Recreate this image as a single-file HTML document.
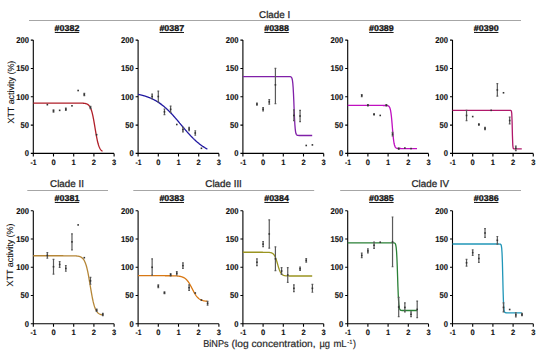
<!DOCTYPE html>
<html><head><meta charset="utf-8"><style>
html,body{margin:0;padding:0;background:#fff;}
body{width:550px;height:361px;overflow:hidden;font-family:"Liberation Sans",sans-serif;}
svg{display:block;text-rendering:geometricPrecision;}
</style></head><body>
<svg width="550" height="361" viewBox="0 0 550 361">
<g stroke="#a6a6a6" stroke-width="1" fill="none">
<line x1="29" y1="20.5" x2="521" y2="20.5"/>
<line x1="27.3" y1="190.5" x2="108" y2="190.5"/>
<line x1="133.3" y1="190.5" x2="314.2" y2="190.5"/>
<line x1="340.2" y1="190.5" x2="521" y2="190.5"/>
</g>
<g font-family="Liberation Sans, sans-serif" font-size="9.8" fill="#2a2a2a" stroke="#2a2a2a" stroke-width="0.3" text-anchor="middle">
<text x="274.6" y="17.5">Clade I</text>
<text x="67" y="186.9">Clade II</text>
<text x="223.6" y="186.9">Clade III</text>
<text x="430.3" y="186.9">Clade IV</text>
</g>
<text x="67" y="30.8" font-family="Liberation Sans, sans-serif" font-weight="bold" font-size="8.4" fill="#111" stroke="#111" stroke-width="0.3" text-anchor="middle" textLength="24.8" lengthAdjust="spacingAndGlyphs">#0382</text>
<line x1="54.8" y1="32.5" x2="79.2" y2="32.5" stroke="#1a1a1a" stroke-width="1"/>
<path d="M33.3 40.1V156.4M30.8 153.4H114.1M30.8 153.4H33.3M30.8 125.08H33.3M30.8 96.75H33.3M30.8 68.43H33.3M30.8 40.1H33.3M33.3 153.4V156.4M53.5 153.4V156.4M73.7 153.4V156.4M93.9 153.4V156.4M114.1 153.4V156.4" stroke="#000" stroke-width="1.1" fill="none"/>
<g font-family="Liberation Sans, sans-serif" font-weight="bold" font-size="8.4" fill="#111" stroke="#111" stroke-width="0.15">
<text x="28.9" y="156.15" text-anchor="end" textLength="4.25" lengthAdjust="spacingAndGlyphs">0</text>
<text x="28.9" y="127.83" text-anchor="end" textLength="8.5" lengthAdjust="spacingAndGlyphs">50</text>
<text x="28.9" y="99.5" text-anchor="end" textLength="12.75" lengthAdjust="spacingAndGlyphs">100</text>
<text x="28.9" y="71.18" text-anchor="end" textLength="12.75" lengthAdjust="spacingAndGlyphs">150</text>
<text x="28.9" y="42.85" text-anchor="end" textLength="12.75" lengthAdjust="spacingAndGlyphs">200</text>
<text x="33.6" y="164.5" font-size="7.8" text-anchor="middle" textLength="6" lengthAdjust="spacingAndGlyphs">-1</text>
<text x="53.5" y="164.5" font-size="7.8" text-anchor="middle" textLength="4.2" lengthAdjust="spacingAndGlyphs">0</text>
<text x="73.7" y="164.5" font-size="7.8" text-anchor="middle" textLength="4.2" lengthAdjust="spacingAndGlyphs">1</text>
<text x="93.9" y="164.5" font-size="7.8" text-anchor="middle" textLength="4.2" lengthAdjust="spacingAndGlyphs">2</text>
<text x="114.1" y="164.5" font-size="7.8" text-anchor="middle" textLength="4.2" lengthAdjust="spacingAndGlyphs">3</text>
</g>
<polyline points="33.3,103.09 33.65,103.09 33.99,103.09 34.34,103.09 34.69,103.09 35.03,103.09 35.38,103.09 35.73,103.09 36.07,103.09 36.42,103.09 36.76,103.09 37.11,103.09 37.46,103.09 37.8,103.09 38.15,103.09 38.5,103.09 38.84,103.09 39.19,103.09 39.54,103.09 39.88,103.09 40.23,103.09 40.58,103.09 40.92,103.09 41.27,103.09 41.61,103.09 41.96,103.09 42.31,103.09 42.65,103.09 43,103.09 43.35,103.09 43.69,103.09 44.04,103.09 44.39,103.09 44.73,103.09 45.08,103.09 45.43,103.09 45.77,103.09 46.12,103.09 46.46,103.09 46.81,103.09 47.16,103.09 47.5,103.09 47.85,103.09 48.2,103.09 48.54,103.09 48.89,103.09 49.24,103.09 49.58,103.09 49.93,103.09 50.28,103.09 50.62,103.09 50.97,103.09 51.31,103.09 51.66,103.09 52.01,103.09 52.35,103.09 52.7,103.09 53.05,103.09 53.39,103.09 53.74,103.09 54.09,103.09 54.43,103.09 54.78,103.09 55.13,103.09 55.47,103.09 55.82,103.09 56.16,103.09 56.51,103.09 56.86,103.09 57.2,103.09 57.55,103.09 57.9,103.09 58.24,103.09 58.59,103.09 58.94,103.09 59.28,103.09 59.63,103.09 59.98,103.09 60.32,103.09 60.67,103.09 61.01,103.09 61.36,103.09 61.71,103.09 62.05,103.09 62.4,103.09 62.75,103.09 63.09,103.09 63.44,103.09 63.79,103.09 64.13,103.09 64.48,103.09 64.83,103.09 65.17,103.09 65.52,103.09 65.86,103.09 66.21,103.09 66.56,103.09 66.9,103.09 67.25,103.09 67.6,103.09 67.94,103.09 68.29,103.09 68.64,103.09 68.98,103.09 69.33,103.09 69.68,103.09 70.02,103.1 70.37,103.1 70.71,103.1 71.06,103.1 71.41,103.1 71.75,103.1 72.1,103.1 72.45,103.1 72.79,103.1 73.14,103.1 73.49,103.1 73.83,103.1 74.18,103.1 74.53,103.1 74.87,103.1 75.22,103.1 75.56,103.1 75.91,103.1 76.26,103.1 76.6,103.1 76.95,103.1 77.3,103.1 77.64,103.1 77.99,103.11 78.34,103.11 78.68,103.11 79.03,103.11 79.38,103.12 79.72,103.12 80.07,103.13 80.41,103.13 80.76,103.14 81.11,103.15 81.45,103.16 81.8,103.17 82.15,103.18 82.49,103.2 82.84,103.22 83.19,103.24 83.53,103.27 83.88,103.3 84.23,103.33 84.57,103.38 84.92,103.43 85.26,103.49 85.61,103.57 85.96,103.65 86.3,103.76 86.65,103.88 87,104.02 87.34,104.19 87.69,104.39 88.04,104.62 88.38,104.9 88.73,105.22 89.08,105.6 89.42,106.04 89.77,106.55 90.11,107.14 90.46,107.82 90.81,108.6 91.15,109.49 91.5,110.51 91.85,111.65 92.19,112.93 92.54,114.34 92.89,115.9 93.23,117.58 93.58,119.39 93.93,121.31 94.27,123.31 94.62,125.38 94.96,127.48 95.31,129.59 95.66,131.67 96,133.69 96.35,135.64 96.7,137.48 97.04,139.2 97.39,140.79 97.74,142.24 98.08,143.55 98.43,144.73 98.78,145.78 99.12,146.7 99.47,147.51 99.81,148.22 100.16,148.84 100.51,149.37 100.85,149.82 101.2,150.22 101.55,150.55 101.89,150.84 102.24,151.08 102.59,151.29" stroke="#b01e28" stroke-width="1.3" fill="none" stroke-linejoin="round"/>
<path d="M53.5 109.78V112.05M52.6 109.78H54.4M52.6 112.05H54.4M65.82 108.08V110.35M64.92 108.08H66.72M64.92 110.35H66.72M84.3 93.35V95.62M83.4 93.35H85.2M83.4 95.62H85.2M90.47 106.38V108.65M89.57 106.38H91.37M89.57 108.65H91.37" stroke="#5a5a5a" stroke-width="1.2" fill="none"/>
<rect x="46.54" y="103.88" width="1.6" height="1.6" fill="#333"/>
<rect x="52.7" y="110.11" width="1.6" height="1.6" fill="#333"/>
<rect x="58.86" y="109.55" width="1.6" height="1.6" fill="#333"/>
<rect x="65.02" y="108.41" width="1.6" height="1.6" fill="#333"/>
<rect x="71.18" y="105.01" width="1.6" height="1.6" fill="#333"/>
<rect x="77.34" y="89.72" width="1.6" height="1.6" fill="#333"/>
<rect x="83.5" y="93.68" width="1.6" height="1.6" fill="#333"/>
<rect x="89.67" y="106.71" width="1.6" height="1.6" fill="#333"/>
<rect x="95.83" y="133.91" width="1.6" height="1.6" fill="#333"/>
<text x="171.8" y="30.8" font-family="Liberation Sans, sans-serif" font-weight="bold" font-size="8.4" fill="#111" stroke="#111" stroke-width="0.3" text-anchor="middle" textLength="24.8" lengthAdjust="spacingAndGlyphs">#0387</text>
<line x1="159.6" y1="32.5" x2="184" y2="32.5" stroke="#1a1a1a" stroke-width="1"/>
<path d="M138.1 40.1V156.4M135.6 153.4H218.9M135.6 153.4H138.1M135.6 125.08H138.1M135.6 96.75H138.1M135.6 68.43H138.1M135.6 40.1H138.1M138.1 153.4V156.4M158.3 153.4V156.4M178.5 153.4V156.4M198.7 153.4V156.4M218.9 153.4V156.4" stroke="#000" stroke-width="1.1" fill="none"/>
<g font-family="Liberation Sans, sans-serif" font-weight="bold" font-size="8.4" fill="#111" stroke="#111" stroke-width="0.15">
<text x="133.7" y="156.15" text-anchor="end" textLength="4.25" lengthAdjust="spacingAndGlyphs">0</text>
<text x="133.7" y="127.83" text-anchor="end" textLength="8.5" lengthAdjust="spacingAndGlyphs">50</text>
<text x="133.7" y="99.5" text-anchor="end" textLength="12.75" lengthAdjust="spacingAndGlyphs">100</text>
<text x="133.7" y="71.18" text-anchor="end" textLength="12.75" lengthAdjust="spacingAndGlyphs">150</text>
<text x="133.7" y="42.85" text-anchor="end" textLength="12.75" lengthAdjust="spacingAndGlyphs">200</text>
<text x="138.4" y="164.5" font-size="7.8" text-anchor="middle" textLength="6" lengthAdjust="spacingAndGlyphs">-1</text>
<text x="158.3" y="164.5" font-size="7.8" text-anchor="middle" textLength="4.2" lengthAdjust="spacingAndGlyphs">0</text>
<text x="178.5" y="164.5" font-size="7.8" text-anchor="middle" textLength="4.2" lengthAdjust="spacingAndGlyphs">1</text>
<text x="198.7" y="164.5" font-size="7.8" text-anchor="middle" textLength="4.2" lengthAdjust="spacingAndGlyphs">2</text>
<text x="218.9" y="164.5" font-size="7.8" text-anchor="middle" textLength="4.2" lengthAdjust="spacingAndGlyphs">3</text>
</g>
<polyline points="138.1,94.37 138.45,94.44 138.79,94.51 139.14,94.58 139.49,94.66 139.83,94.73 140.18,94.81 140.53,94.89 140.87,94.97 141.22,95.05 141.56,95.14 141.91,95.22 142.26,95.31 142.6,95.4 142.95,95.5 143.3,95.59 143.64,95.69 143.99,95.79 144.34,95.89 144.68,95.99 145.03,96.1 145.38,96.2 145.72,96.31 146.07,96.43 146.41,96.54 146.76,96.66 147.11,96.78 147.45,96.9 147.8,97.03 148.15,97.15 148.49,97.28 148.84,97.42 149.19,97.55 149.53,97.69 149.88,97.83 150.23,97.98 150.57,98.12 150.92,98.27 151.26,98.43 151.61,98.58 151.96,98.74 152.3,98.91 152.65,99.07 153,99.24 153.34,99.42 153.69,99.59 154.04,99.77 154.38,99.95 154.73,100.14 155.08,100.33 155.42,100.52 155.77,100.72 156.11,100.92 156.46,101.12 156.81,101.33 157.15,101.54 157.5,101.76 157.85,101.98 158.19,102.2 158.54,102.42 158.89,102.66 159.23,102.89 159.58,103.13 159.93,103.37 160.27,103.62 160.62,103.87 160.96,104.12 161.31,104.38 161.66,104.64 162,104.9 162.35,105.17 162.7,105.45 163.04,105.73 163.39,106.01 163.74,106.29 164.08,106.58 164.43,106.88 164.78,107.17 165.12,107.48 165.47,107.78 165.81,108.09 166.16,108.4 166.51,108.72 166.85,109.04 167.2,109.37 167.55,109.7 167.89,110.03 168.24,110.37 168.59,110.71 168.93,111.05 169.28,111.4 169.63,111.75 169.97,112.1 170.32,112.46 170.66,112.82 171.01,113.18 171.36,113.55 171.7,113.92 172.05,114.29 172.4,114.67 172.74,115.05 173.09,115.43 173.44,115.81 173.78,116.2 174.13,116.59 174.48,116.98 174.82,117.38 175.17,117.77 175.51,118.17 175.86,118.57 176.21,118.97 176.55,119.38 176.9,119.78 177.25,120.19 177.59,120.6 177.94,121.01 178.29,121.42 178.63,121.83 178.98,122.24 179.33,122.65 179.67,123.07 180.02,123.48 180.36,123.9 180.71,124.31 181.06,124.72 181.4,125.14 181.75,125.55 182.1,125.97 182.44,126.38 182.79,126.8 183.14,127.21 183.48,127.62 183.83,128.03 184.18,128.44 184.52,128.85 184.87,129.25 185.21,129.66 185.56,130.06 185.91,130.47 186.25,130.87 186.6,131.27 186.95,131.66 187.29,132.06 187.64,132.45 187.99,132.84 188.33,133.23 188.68,133.61 189.03,133.99 189.37,134.37 189.72,134.75 190.06,135.12 190.41,135.5 190.76,135.86 191.1,136.23 191.45,136.59 191.8,136.95 192.14,137.3 192.49,137.65 192.84,138 193.18,138.35 193.53,138.69 193.88,139.02 194.22,139.36 194.57,139.69 194.91,140.01 195.26,140.33 195.61,140.65 195.95,140.97 196.3,141.28 196.65,141.58 196.99,141.89 197.34,142.19 197.69,142.48 198.03,142.77 198.38,143.06 198.73,143.34 199.07,143.62 199.42,143.89 199.76,144.16 200.11,144.43 200.46,144.69 200.8,144.95 201.15,145.21 201.5,145.46 201.84,145.7 202.19,145.95 202.54,146.19 202.88,146.42 203.23,146.65 203.58,146.88 203.92,147.1 204.27,147.32 204.61,147.54 204.96,147.75 205.31,147.96 205.65,148.16 206,148.37 206.35,148.56 206.69,148.76 207.04,148.95 207.39,149.13" stroke="#2018a0" stroke-width="1.3" fill="none" stroke-linejoin="round"/>
<path d="M152.14 94.2V98.73M151.24 94.2H153.04M151.24 98.73H153.04M158.3 91.2V101.85M157.4 91.2H159.2M157.4 101.85H159.2M164.46 108.99V114.65M163.56 108.99H165.36M163.56 114.65H165.36M170.62 106.21V112.44M169.72 106.21H171.52M169.72 112.44H171.52M182.94 127.34V131.87M182.04 127.34H183.84M182.04 131.87H183.84M189.1 127.34V130.74M188.2 127.34H190M188.2 130.74H190M195.27 130.74V135.27M194.37 130.74H196.17M194.37 135.27H196.17" stroke="#5a5a5a" stroke-width="1.2" fill="none"/>
<rect x="151.34" y="95.67" width="1.6" height="1.6" fill="#333"/>
<rect x="157.5" y="95.72" width="1.6" height="1.6" fill="#333"/>
<rect x="163.66" y="111.02" width="1.6" height="1.6" fill="#333"/>
<rect x="169.82" y="108.53" width="1.6" height="1.6" fill="#333"/>
<rect x="175.98" y="123.71" width="1.6" height="1.6" fill="#333"/>
<rect x="182.14" y="128.81" width="1.6" height="1.6" fill="#333"/>
<rect x="188.3" y="128.24" width="1.6" height="1.6" fill="#333"/>
<rect x="194.47" y="132.21" width="1.6" height="1.6" fill="#333"/>
<rect x="200.63" y="147.5" width="1.6" height="1.6" fill="#333"/>
<text x="276.6" y="30.8" font-family="Liberation Sans, sans-serif" font-weight="bold" font-size="8.4" fill="#111" stroke="#111" stroke-width="0.3" text-anchor="middle" textLength="24.8" lengthAdjust="spacingAndGlyphs">#0388</text>
<line x1="264.4" y1="32.5" x2="288.8" y2="32.5" stroke="#1a1a1a" stroke-width="1"/>
<path d="M242.9 40.1V156.4M240.4 153.4H323.7M240.4 153.4H242.9M240.4 125.08H242.9M240.4 96.75H242.9M240.4 68.43H242.9M240.4 40.1H242.9M242.9 153.4V156.4M263.1 153.4V156.4M283.3 153.4V156.4M303.5 153.4V156.4M323.7 153.4V156.4" stroke="#000" stroke-width="1.1" fill="none"/>
<g font-family="Liberation Sans, sans-serif" font-weight="bold" font-size="8.4" fill="#111" stroke="#111" stroke-width="0.15">
<text x="238.5" y="156.15" text-anchor="end" textLength="4.25" lengthAdjust="spacingAndGlyphs">0</text>
<text x="238.5" y="127.83" text-anchor="end" textLength="8.5" lengthAdjust="spacingAndGlyphs">50</text>
<text x="238.5" y="99.5" text-anchor="end" textLength="12.75" lengthAdjust="spacingAndGlyphs">100</text>
<text x="238.5" y="71.18" text-anchor="end" textLength="12.75" lengthAdjust="spacingAndGlyphs">150</text>
<text x="238.5" y="42.85" text-anchor="end" textLength="12.75" lengthAdjust="spacingAndGlyphs">200</text>
<text x="243.2" y="164.5" font-size="7.8" text-anchor="middle" textLength="6" lengthAdjust="spacingAndGlyphs">-1</text>
<text x="263.1" y="164.5" font-size="7.8" text-anchor="middle" textLength="4.2" lengthAdjust="spacingAndGlyphs">0</text>
<text x="283.3" y="164.5" font-size="7.8" text-anchor="middle" textLength="4.2" lengthAdjust="spacingAndGlyphs">1</text>
<text x="303.5" y="164.5" font-size="7.8" text-anchor="middle" textLength="4.2" lengthAdjust="spacingAndGlyphs">2</text>
<text x="323.7" y="164.5" font-size="7.8" text-anchor="middle" textLength="4.2" lengthAdjust="spacingAndGlyphs">3</text>
</g>
<polyline points="242.9,76.58 243.25,76.58 243.59,76.58 243.94,76.58 244.29,76.58 244.63,76.58 244.98,76.58 245.33,76.58 245.67,76.58 246.02,76.58 246.36,76.58 246.71,76.58 247.06,76.58 247.4,76.58 247.75,76.58 248.1,76.58 248.44,76.58 248.79,76.58 249.14,76.58 249.48,76.58 249.83,76.58 250.18,76.58 250.52,76.58 250.87,76.58 251.21,76.58 251.56,76.58 251.91,76.58 252.25,76.58 252.6,76.58 252.95,76.58 253.29,76.58 253.64,76.58 253.99,76.58 254.33,76.58 254.68,76.58 255.03,76.58 255.37,76.58 255.72,76.58 256.06,76.58 256.41,76.58 256.76,76.58 257.1,76.58 257.45,76.58 257.8,76.58 258.14,76.58 258.49,76.58 258.84,76.58 259.18,76.58 259.53,76.58 259.88,76.58 260.22,76.58 260.57,76.58 260.91,76.58 261.26,76.58 261.61,76.58 261.95,76.58 262.3,76.58 262.65,76.58 262.99,76.58 263.34,76.58 263.69,76.58 264.03,76.58 264.38,76.58 264.73,76.58 265.07,76.58 265.42,76.58 265.76,76.58 266.11,76.58 266.46,76.58 266.8,76.58 267.15,76.58 267.5,76.58 267.84,76.58 268.19,76.58 268.54,76.58 268.88,76.58 269.23,76.58 269.58,76.58 269.92,76.58 270.27,76.58 270.61,76.58 270.96,76.58 271.31,76.58 271.65,76.58 272,76.58 272.35,76.58 272.69,76.58 273.04,76.58 273.39,76.58 273.73,76.58 274.08,76.58 274.43,76.58 274.77,76.58 275.12,76.58 275.46,76.58 275.81,76.58 276.16,76.58 276.5,76.58 276.85,76.58 277.2,76.58 277.54,76.58 277.89,76.58 278.24,76.58 278.58,76.58 278.93,76.58 279.28,76.58 279.62,76.58 279.97,76.58 280.31,76.58 280.66,76.58 281.01,76.58 281.35,76.58 281.7,76.58 282.05,76.58 282.39,76.58 282.74,76.58 283.09,76.58 283.43,76.58 283.78,76.58 284.13,76.58 284.47,76.58 284.82,76.58 285.16,76.58 285.51,76.58 285.86,76.58 286.2,76.58 286.55,76.58 286.9,76.58 287.24,76.58 287.59,76.58 287.94,76.58 288.28,76.59 288.63,76.59 288.98,76.59 289.32,76.6 289.67,76.62 290.01,76.65 290.36,76.7 290.71,76.79 291.05,76.96 291.4,77.26 291.75,77.79 292.09,78.74 292.44,80.37 292.79,83.09 293.13,87.38 293.48,93.59 293.83,101.52 294.17,110.18 294.52,118.17 294.86,124.47 295.21,128.84 295.56,131.62 295.9,133.29 296.25,134.26 296.6,134.8 296.94,135.11 297.29,135.28 297.64,135.38 297.98,135.43 298.33,135.46 298.68,135.48 299.02,135.49 299.37,135.49 299.71,135.5 300.06,135.5 300.41,135.5 300.75,135.5 301.1,135.5 301.45,135.5 301.79,135.5 302.14,135.5 302.49,135.5 302.83,135.5 303.18,135.5 303.53,135.5 303.87,135.5 304.22,135.5 304.56,135.5 304.91,135.5 305.26,135.5 305.6,135.5 305.95,135.5 306.3,135.5 306.64,135.5 306.99,135.5 307.34,135.5 307.68,135.5 308.03,135.5 308.38,135.5 308.72,135.5 309.07,135.5 309.41,135.5 309.76,135.5 310.11,135.5 310.45,135.5 310.8,135.5 311.15,135.5 311.49,135.5 311.84,135.5 312.19,135.5" stroke="#8020a8" stroke-width="1.3" fill="none" stroke-linejoin="round"/>
<path d="M256.94 102.98V105.25M256.04 102.98H257.84M256.04 105.25H257.84M263.1 107.51V110.91M262.2 107.51H264M262.2 110.91H264M269.26 99.58V104.11M268.36 99.58H270.16M268.36 104.11H270.16M275.42 68.43V103.55M274.52 68.43H276.32M274.52 103.55H276.32M293.9 109.78V120.54M293 109.78H294.8M293 120.54H294.8M300.07 110.35V121.68M299.17 110.35H300.97M299.17 121.68H300.97" stroke="#5a5a5a" stroke-width="1.2" fill="none"/>
<rect x="256.14" y="103.31" width="1.6" height="1.6" fill="#333"/>
<rect x="262.3" y="108.41" width="1.6" height="1.6" fill="#333"/>
<rect x="268.46" y="101.05" width="1.6" height="1.6" fill="#333"/>
<rect x="274.62" y="84.05" width="1.6" height="1.6" fill="#333"/>
<rect x="293.1" y="114.64" width="1.6" height="1.6" fill="#333"/>
<rect x="299.27" y="115.21" width="1.6" height="1.6" fill="#333"/>
<rect x="305.43" y="144.67" width="1.6" height="1.6" fill="#333"/>
<rect x="311.59" y="144.1" width="1.6" height="1.6" fill="#333"/>
<text x="381.4" y="30.8" font-family="Liberation Sans, sans-serif" font-weight="bold" font-size="8.4" fill="#111" stroke="#111" stroke-width="0.3" text-anchor="middle" textLength="24.8" lengthAdjust="spacingAndGlyphs">#0389</text>
<line x1="369.2" y1="32.5" x2="393.6" y2="32.5" stroke="#1a1a1a" stroke-width="1"/>
<path d="M347.7 40.1V156.4M345.2 153.4H428.5M345.2 153.4H347.7M345.2 125.08H347.7M345.2 96.75H347.7M345.2 68.43H347.7M345.2 40.1H347.7M347.7 153.4V156.4M367.9 153.4V156.4M388.1 153.4V156.4M408.3 153.4V156.4M428.5 153.4V156.4" stroke="#000" stroke-width="1.1" fill="none"/>
<g font-family="Liberation Sans, sans-serif" font-weight="bold" font-size="8.4" fill="#111" stroke="#111" stroke-width="0.15">
<text x="343.3" y="156.15" text-anchor="end" textLength="4.25" lengthAdjust="spacingAndGlyphs">0</text>
<text x="343.3" y="127.83" text-anchor="end" textLength="8.5" lengthAdjust="spacingAndGlyphs">50</text>
<text x="343.3" y="99.5" text-anchor="end" textLength="12.75" lengthAdjust="spacingAndGlyphs">100</text>
<text x="343.3" y="71.18" text-anchor="end" textLength="12.75" lengthAdjust="spacingAndGlyphs">150</text>
<text x="343.3" y="42.85" text-anchor="end" textLength="12.75" lengthAdjust="spacingAndGlyphs">200</text>
<text x="348" y="164.5" font-size="7.8" text-anchor="middle" textLength="6" lengthAdjust="spacingAndGlyphs">-1</text>
<text x="367.9" y="164.5" font-size="7.8" text-anchor="middle" textLength="4.2" lengthAdjust="spacingAndGlyphs">0</text>
<text x="388.1" y="164.5" font-size="7.8" text-anchor="middle" textLength="4.2" lengthAdjust="spacingAndGlyphs">1</text>
<text x="408.3" y="164.5" font-size="7.8" text-anchor="middle" textLength="4.2" lengthAdjust="spacingAndGlyphs">2</text>
<text x="428.5" y="164.5" font-size="7.8" text-anchor="middle" textLength="4.2" lengthAdjust="spacingAndGlyphs">3</text>
</g>
<polyline points="347.7,105.47 348.05,105.47 348.39,105.47 348.74,105.47 349.09,105.47 349.43,105.47 349.78,105.47 350.13,105.47 350.47,105.47 350.82,105.47 351.16,105.47 351.51,105.47 351.86,105.47 352.2,105.47 352.55,105.47 352.9,105.47 353.24,105.47 353.59,105.47 353.94,105.47 354.28,105.47 354.63,105.47 354.98,105.47 355.32,105.47 355.67,105.47 356.01,105.47 356.36,105.47 356.71,105.47 357.05,105.47 357.4,105.47 357.75,105.47 358.09,105.47 358.44,105.47 358.79,105.47 359.13,105.47 359.48,105.47 359.83,105.47 360.17,105.47 360.52,105.47 360.86,105.47 361.21,105.47 361.56,105.47 361.9,105.47 362.25,105.47 362.6,105.47 362.94,105.47 363.29,105.47 363.64,105.47 363.98,105.47 364.33,105.47 364.68,105.47 365.02,105.47 365.37,105.47 365.71,105.47 366.06,105.47 366.41,105.47 366.75,105.47 367.1,105.47 367.45,105.47 367.79,105.47 368.14,105.47 368.49,105.47 368.83,105.47 369.18,105.47 369.53,105.47 369.87,105.47 370.22,105.47 370.56,105.47 370.91,105.47 371.26,105.47 371.6,105.47 371.95,105.47 372.3,105.47 372.64,105.47 372.99,105.47 373.34,105.47 373.68,105.47 374.03,105.47 374.38,105.47 374.72,105.47 375.07,105.47 375.41,105.47 375.76,105.47 376.11,105.47 376.45,105.47 376.8,105.47 377.15,105.47 377.49,105.47 377.84,105.47 378.19,105.47 378.53,105.47 378.88,105.47 379.23,105.47 379.57,105.47 379.92,105.47 380.26,105.47 380.61,105.47 380.96,105.47 381.3,105.47 381.65,105.47 382,105.47 382.34,105.47 382.69,105.47 383.04,105.48 383.38,105.48 383.73,105.48 384.08,105.48 384.42,105.48 384.77,105.48 385.11,105.49 385.46,105.49 385.81,105.5 386.15,105.51 386.5,105.53 386.85,105.56 387.19,105.6 387.54,105.65 387.89,105.74 388.23,105.87 388.58,106.06 388.93,106.33 389.27,106.74 389.62,107.32 389.96,108.16 390.31,109.34 390.66,110.98 391,113.17 391.35,115.98 391.7,119.42 392.04,123.37 392.39,127.58 392.74,131.75 393.08,135.58 393.43,138.86 393.78,141.5 394.12,143.52 394.47,145.02 394.81,146.1 395.16,146.86 395.51,147.39 395.85,147.76 396.2,148 396.55,148.17 396.89,148.29 397.24,148.37 397.59,148.42 397.93,148.45 398.28,148.48 398.63,148.49 398.97,148.51 399.32,148.51 399.66,148.52 400.01,148.52 400.36,148.52 400.7,148.52 401.05,148.53 401.4,148.53 401.74,148.53 402.09,148.53 402.44,148.53 402.78,148.53 403.13,148.53 403.48,148.53 403.82,148.53 404.17,148.53 404.51,148.53 404.86,148.53 405.21,148.53 405.55,148.53 405.9,148.53 406.25,148.53 406.59,148.53 406.94,148.53 407.29,148.53 407.63,148.53 407.98,148.53 408.33,148.53 408.67,148.53 409.02,148.53 409.36,148.53 409.71,148.53 410.06,148.53 410.4,148.53 410.75,148.53 411.1,148.53 411.44,148.53 411.79,148.53 412.14,148.53 412.48,148.53 412.83,148.53 413.18,148.53 413.52,148.53 413.87,148.53 414.21,148.53 414.56,148.53 414.91,148.53 415.25,148.53 415.6,148.53 415.95,148.53 416.29,148.53 416.64,148.53 416.99,148.53" stroke="#c010c0" stroke-width="1.3" fill="none" stroke-linejoin="round"/>
<path d="M361.74 94.48V96.75M360.84 94.48H362.64M360.84 96.75H362.64M367.9 104.68V105.81M367 104.68H368.8M367 105.81H368.8M374.06 113.75V114.88M373.16 113.75H374.96M373.16 114.88H374.96M386.38 104.68V105.81M385.48 104.68H387.28M385.48 105.81H387.28M392.54 132.44V135.84M391.64 132.44H393.44M391.64 135.84H393.44M398.7 148.02V149.15M397.81 148.02H399.6M397.81 149.15H399.6" stroke="#5a5a5a" stroke-width="1.2" fill="none"/>
<rect x="360.94" y="94.82" width="1.6" height="1.6" fill="#333"/>
<rect x="367.1" y="104.45" width="1.6" height="1.6" fill="#333"/>
<rect x="373.26" y="113.51" width="1.6" height="1.6" fill="#333"/>
<rect x="379.42" y="114.64" width="1.6" height="1.6" fill="#333"/>
<rect x="385.58" y="104.45" width="1.6" height="1.6" fill="#333"/>
<rect x="391.74" y="133.34" width="1.6" height="1.6" fill="#333"/>
<rect x="397.9" y="147.78" width="1.6" height="1.6" fill="#333"/>
<rect x="404.07" y="147.22" width="1.6" height="1.6" fill="#333"/>
<rect x="410.23" y="147.78" width="1.6" height="1.6" fill="#333"/>
<text x="486.2" y="30.8" font-family="Liberation Sans, sans-serif" font-weight="bold" font-size="8.4" fill="#111" stroke="#111" stroke-width="0.3" text-anchor="middle" textLength="24.8" lengthAdjust="spacingAndGlyphs">#0390</text>
<line x1="474" y1="32.5" x2="498.4" y2="32.5" stroke="#1a1a1a" stroke-width="1"/>
<path d="M452.5 40.1V156.4M450 153.4H533.3M450 153.4H452.5M450 125.08H452.5M450 96.75H452.5M450 68.43H452.5M450 40.1H452.5M452.5 153.4V156.4M472.7 153.4V156.4M492.9 153.4V156.4M513.1 153.4V156.4M533.3 153.4V156.4" stroke="#000" stroke-width="1.1" fill="none"/>
<g font-family="Liberation Sans, sans-serif" font-weight="bold" font-size="8.4" fill="#111" stroke="#111" stroke-width="0.15">
<text x="448.1" y="156.15" text-anchor="end" textLength="4.25" lengthAdjust="spacingAndGlyphs">0</text>
<text x="448.1" y="127.83" text-anchor="end" textLength="8.5" lengthAdjust="spacingAndGlyphs">50</text>
<text x="448.1" y="99.5" text-anchor="end" textLength="12.75" lengthAdjust="spacingAndGlyphs">100</text>
<text x="448.1" y="71.18" text-anchor="end" textLength="12.75" lengthAdjust="spacingAndGlyphs">150</text>
<text x="448.1" y="42.85" text-anchor="end" textLength="12.75" lengthAdjust="spacingAndGlyphs">200</text>
<text x="452.8" y="164.5" font-size="7.8" text-anchor="middle" textLength="6" lengthAdjust="spacingAndGlyphs">-1</text>
<text x="472.7" y="164.5" font-size="7.8" text-anchor="middle" textLength="4.2" lengthAdjust="spacingAndGlyphs">0</text>
<text x="492.9" y="164.5" font-size="7.8" text-anchor="middle" textLength="4.2" lengthAdjust="spacingAndGlyphs">1</text>
<text x="513.1" y="164.5" font-size="7.8" text-anchor="middle" textLength="4.2" lengthAdjust="spacingAndGlyphs">2</text>
<text x="533.3" y="164.5" font-size="7.8" text-anchor="middle" textLength="4.2" lengthAdjust="spacingAndGlyphs">3</text>
</g>
<polyline points="452.5,110.4 452.85,110.4 453.19,110.4 453.54,110.4 453.89,110.4 454.23,110.4 454.58,110.4 454.93,110.4 455.27,110.4 455.62,110.4 455.96,110.4 456.31,110.4 456.66,110.4 457,110.4 457.35,110.4 457.7,110.4 458.04,110.4 458.39,110.4 458.74,110.4 459.08,110.4 459.43,110.4 459.78,110.4 460.12,110.4 460.47,110.4 460.81,110.4 461.16,110.4 461.51,110.4 461.85,110.4 462.2,110.4 462.55,110.4 462.89,110.4 463.24,110.4 463.59,110.4 463.93,110.4 464.28,110.4 464.63,110.4 464.97,110.4 465.32,110.4 465.66,110.4 466.01,110.4 466.36,110.4 466.7,110.4 467.05,110.4 467.4,110.4 467.74,110.4 468.09,110.4 468.44,110.4 468.78,110.4 469.13,110.4 469.48,110.4 469.82,110.4 470.17,110.4 470.51,110.4 470.86,110.4 471.21,110.4 471.55,110.4 471.9,110.4 472.25,110.4 472.59,110.4 472.94,110.4 473.29,110.4 473.63,110.4 473.98,110.4 474.33,110.4 474.67,110.4 475.02,110.4 475.36,110.4 475.71,110.4 476.06,110.4 476.4,110.4 476.75,110.4 477.1,110.4 477.44,110.4 477.79,110.4 478.14,110.4 478.48,110.4 478.83,110.4 479.18,110.4 479.52,110.4 479.87,110.4 480.21,110.4 480.56,110.4 480.91,110.4 481.25,110.4 481.6,110.4 481.95,110.4 482.29,110.4 482.64,110.4 482.99,110.4 483.33,110.4 483.68,110.4 484.03,110.4 484.37,110.4 484.72,110.4 485.06,110.4 485.41,110.4 485.76,110.4 486.1,110.4 486.45,110.4 486.8,110.4 487.14,110.4 487.49,110.4 487.84,110.4 488.18,110.4 488.53,110.4 488.88,110.4 489.22,110.4 489.57,110.4 489.91,110.4 490.26,110.4 490.61,110.4 490.95,110.4 491.3,110.4 491.65,110.4 491.99,110.4 492.34,110.4 492.69,110.4 493.03,110.4 493.38,110.4 493.73,110.4 494.07,110.4 494.42,110.4 494.76,110.4 495.11,110.4 495.46,110.4 495.8,110.4 496.15,110.4 496.5,110.4 496.84,110.4 497.19,110.4 497.54,110.4 497.88,110.4 498.23,110.4 498.58,110.4 498.92,110.4 499.27,110.4 499.61,110.4 499.96,110.4 500.31,110.4 500.65,110.4 501,110.4 501.35,110.4 501.69,110.4 502.04,110.4 502.39,110.4 502.73,110.4 503.08,110.4 503.43,110.4 503.77,110.4 504.12,110.4 504.46,110.4 504.81,110.4 505.16,110.4 505.5,110.4 505.85,110.4 506.2,110.4 506.54,110.4 506.89,110.4 507.24,110.4 507.58,110.4 507.93,110.4 508.28,110.4 508.62,110.4 508.97,110.4 509.31,110.4 509.66,110.4 510.01,110.4 510.35,110.41 510.7,110.43 511.05,110.53 511.39,111.03 511.74,113.27 512.09,121.2 512.43,135.55 512.78,145.05 513.13,147.97 513.47,148.63 513.82,148.77 514.16,148.8 514.51,148.81 514.86,148.81 515.2,148.81 515.55,148.81 515.9,148.81 516.24,148.81 516.59,148.81 516.94,148.81 517.28,148.81 517.63,148.81 517.98,148.81 518.32,148.81 518.67,148.81 519.01,148.81 519.36,148.81 519.71,148.81 520.05,148.81 520.4,148.81 520.75,148.81 521.09,148.81 521.44,148.81 521.79,148.81" stroke="#b0186a" stroke-width="1.3" fill="none" stroke-linejoin="round"/>
<path d="M466.54 110.35V120.54M465.64 110.35H467.44M465.64 120.54H467.44M478.86 123.94V125.08M477.96 123.94H479.76M477.96 125.08H479.76M485.02 127.34V129.61M484.12 127.34H485.92M484.12 129.61H485.92M497.34 83.72V96.18M496.44 83.72H498.24M496.44 96.18H498.24M509.67 117.14V123.94M508.77 117.14H510.57M508.77 123.94H510.57M515.83 146.04V150.57M514.93 146.04H516.73M514.93 150.57H516.73" stroke="#5a5a5a" stroke-width="1.2" fill="none"/>
<rect x="465.74" y="114.64" width="1.6" height="1.6" fill="#333"/>
<rect x="471.9" y="115.78" width="1.6" height="1.6" fill="#333"/>
<rect x="478.06" y="123.71" width="1.6" height="1.6" fill="#333"/>
<rect x="484.22" y="127.67" width="1.6" height="1.6" fill="#333"/>
<rect x="490.38" y="109.55" width="1.6" height="1.6" fill="#333"/>
<rect x="496.54" y="89.15" width="1.6" height="1.6" fill="#333"/>
<rect x="502.7" y="91.98" width="1.6" height="1.6" fill="#333"/>
<rect x="508.87" y="119.74" width="1.6" height="1.6" fill="#333"/>
<rect x="515.03" y="147.5" width="1.6" height="1.6" fill="#333"/>
<text x="67" y="200.8" font-family="Liberation Sans, sans-serif" font-weight="bold" font-size="8.4" fill="#111" stroke="#111" stroke-width="0.3" text-anchor="middle" textLength="24.8" lengthAdjust="spacingAndGlyphs">#0381</text>
<line x1="54.8" y1="202.5" x2="79.2" y2="202.5" stroke="#1a1a1a" stroke-width="1"/>
<path d="M33.3 210.8V326.8M30.8 323.8H114.1M30.8 323.8H33.3M30.8 295.55H33.3M30.8 267.3H33.3M30.8 239.05H33.3M30.8 210.8H33.3M33.3 323.8V326.8M53.5 323.8V326.8M73.7 323.8V326.8M93.9 323.8V326.8M114.1 323.8V326.8" stroke="#000" stroke-width="1.1" fill="none"/>
<g font-family="Liberation Sans, sans-serif" font-weight="bold" font-size="8.4" fill="#111" stroke="#111" stroke-width="0.15">
<text x="28.9" y="326.55" text-anchor="end" textLength="4.25" lengthAdjust="spacingAndGlyphs">0</text>
<text x="28.9" y="298.3" text-anchor="end" textLength="8.5" lengthAdjust="spacingAndGlyphs">50</text>
<text x="28.9" y="270.05" text-anchor="end" textLength="12.75" lengthAdjust="spacingAndGlyphs">100</text>
<text x="28.9" y="241.8" text-anchor="end" textLength="12.75" lengthAdjust="spacingAndGlyphs">150</text>
<text x="28.9" y="213.55" text-anchor="end" textLength="12.75" lengthAdjust="spacingAndGlyphs">200</text>
<text x="33.6" y="334.9" font-size="7.8" text-anchor="middle" textLength="6" lengthAdjust="spacingAndGlyphs">-1</text>
<text x="53.5" y="334.9" font-size="7.8" text-anchor="middle" textLength="4.2" lengthAdjust="spacingAndGlyphs">0</text>
<text x="73.7" y="334.9" font-size="7.8" text-anchor="middle" textLength="4.2" lengthAdjust="spacingAndGlyphs">1</text>
<text x="93.9" y="334.9" font-size="7.8" text-anchor="middle" textLength="4.2" lengthAdjust="spacingAndGlyphs">2</text>
<text x="114.1" y="334.9" font-size="7.8" text-anchor="middle" textLength="4.2" lengthAdjust="spacingAndGlyphs">3</text>
</g>
<polyline points="33.3,255.77 33.65,255.77 33.99,255.77 34.34,255.77 34.69,255.77 35.03,255.77 35.38,255.77 35.73,255.77 36.07,255.77 36.42,255.77 36.76,255.77 37.11,255.77 37.46,255.77 37.8,255.77 38.15,255.77 38.5,255.77 38.84,255.77 39.19,255.77 39.54,255.77 39.88,255.77 40.23,255.77 40.58,255.77 40.92,255.77 41.27,255.77 41.61,255.77 41.96,255.77 42.31,255.77 42.65,255.77 43,255.77 43.35,255.77 43.69,255.77 44.04,255.77 44.39,255.77 44.73,255.77 45.08,255.77 45.43,255.77 45.77,255.77 46.12,255.77 46.46,255.77 46.81,255.77 47.16,255.77 47.5,255.77 47.85,255.77 48.2,255.77 48.54,255.77 48.89,255.77 49.24,255.77 49.58,255.77 49.93,255.77 50.28,255.77 50.62,255.77 50.97,255.77 51.31,255.77 51.66,255.77 52.01,255.77 52.35,255.77 52.7,255.77 53.05,255.77 53.39,255.77 53.74,255.77 54.09,255.77 54.43,255.77 54.78,255.77 55.13,255.77 55.47,255.77 55.82,255.77 56.16,255.77 56.51,255.77 56.86,255.77 57.2,255.77 57.55,255.77 57.9,255.77 58.24,255.77 58.59,255.77 58.94,255.77 59.28,255.77 59.63,255.77 59.98,255.77 60.32,255.77 60.67,255.77 61.01,255.77 61.36,255.77 61.71,255.77 62.05,255.77 62.4,255.77 62.75,255.77 63.09,255.77 63.44,255.78 63.79,255.78 64.13,255.78 64.48,255.78 64.83,255.78 65.17,255.78 65.52,255.78 65.86,255.78 66.21,255.78 66.56,255.78 66.9,255.78 67.25,255.78 67.6,255.78 67.94,255.78 68.29,255.78 68.64,255.78 68.98,255.78 69.33,255.79 69.68,255.79 70.02,255.79 70.37,255.79 70.71,255.79 71.06,255.8 71.41,255.8 71.75,255.81 72.1,255.81 72.45,255.82 72.79,255.82 73.14,255.83 73.49,255.84 73.83,255.85 74.18,255.86 74.53,255.87 74.87,255.89 75.22,255.9 75.56,255.92 75.91,255.95 76.26,255.97 76.6,256 76.95,256.04 77.3,256.07 77.64,256.12 77.99,256.17 78.34,256.23 78.68,256.3 79.03,256.38 79.38,256.47 79.72,256.58 80.07,256.7 80.41,256.84 80.76,257 81.11,257.18 81.45,257.39 81.8,257.62 82.15,257.9 82.49,258.21 82.84,258.56 83.19,258.96 83.53,259.42 83.88,259.93 84.23,260.52 84.57,261.17 84.92,261.91 85.26,262.74 85.61,263.65 85.96,264.68 86.3,265.8 86.65,267.04 87,268.39 87.34,269.86 87.69,271.44 88.04,273.13 88.38,274.92 88.73,276.81 89.08,278.77 89.42,280.8 89.77,282.88 90.11,284.98 90.46,287.09 90.81,289.18 91.15,291.23 91.5,293.23 91.85,295.16 92.19,297 92.54,298.75 92.89,300.39 93.23,301.91 93.58,303.32 93.93,304.62 94.27,305.8 94.62,306.88 94.96,307.85 95.31,308.72 95.66,309.5 96,310.2 96.35,310.82 96.7,311.37 97.04,311.85 97.39,312.28 97.74,312.66 98.08,312.99 98.43,313.28 98.78,313.54 99.12,313.76 99.47,313.96 99.81,314.13 100.16,314.27 100.51,314.4 100.85,314.52 101.2,314.61 101.55,314.7 101.89,314.77 102.24,314.84 102.59,314.9" stroke="#b58637" stroke-width="1.3" fill="none" stroke-linejoin="round"/>
<path d="M47.34 252.61V258.26M46.44 252.61H48.24M46.44 258.26H48.24M53.5 259.39V274.08M52.6 259.39H54.4M52.6 274.08H54.4M59.66 261.65V267.3M58.76 261.65H60.56M58.76 267.3H60.56M65.82 265.61V271.25M64.92 265.61H66.72M64.92 271.25H66.72M71.98 233.97V249.79M71.08 233.97H72.88M71.08 249.79H72.88M90.47 277.47V284.25M89.57 277.47H91.37M89.57 284.25H91.37M96.63 309.11V311.37M95.73 309.11H97.53M95.73 311.37H97.53M102.79 313.35V315.61M101.89 313.35H103.69M101.89 315.61H103.69" stroke="#5a5a5a" stroke-width="1.2" fill="none"/>
<rect x="46.54" y="254.63" width="1.6" height="1.6" fill="#333"/>
<rect x="52.7" y="265.94" width="1.6" height="1.6" fill="#333"/>
<rect x="58.86" y="263.68" width="1.6" height="1.6" fill="#333"/>
<rect x="65.02" y="267.63" width="1.6" height="1.6" fill="#333"/>
<rect x="71.18" y="241.07" width="1.6" height="1.6" fill="#333"/>
<rect x="77.34" y="224.12" width="1.6" height="1.6" fill="#333"/>
<rect x="83.5" y="256.89" width="1.6" height="1.6" fill="#333"/>
<rect x="89.67" y="280.06" width="1.6" height="1.6" fill="#333"/>
<rect x="95.83" y="309.44" width="1.6" height="1.6" fill="#333"/>
<rect x="101.99" y="313.68" width="1.6" height="1.6" fill="#333"/>
<text x="171.8" y="200.8" font-family="Liberation Sans, sans-serif" font-weight="bold" font-size="8.4" fill="#111" stroke="#111" stroke-width="0.3" text-anchor="middle" textLength="24.8" lengthAdjust="spacingAndGlyphs">#0383</text>
<line x1="159.6" y1="202.5" x2="184" y2="202.5" stroke="#1a1a1a" stroke-width="1"/>
<path d="M138.1 210.8V326.8M135.6 323.8H218.9M135.6 323.8H138.1M135.6 295.55H138.1M135.6 267.3H138.1M135.6 239.05H138.1M135.6 210.8H138.1M138.1 323.8V326.8M158.3 323.8V326.8M178.5 323.8V326.8M198.7 323.8V326.8M218.9 323.8V326.8" stroke="#000" stroke-width="1.1" fill="none"/>
<g font-family="Liberation Sans, sans-serif" font-weight="bold" font-size="8.4" fill="#111" stroke="#111" stroke-width="0.15">
<text x="133.7" y="326.55" text-anchor="end" textLength="4.25" lengthAdjust="spacingAndGlyphs">0</text>
<text x="133.7" y="298.3" text-anchor="end" textLength="8.5" lengthAdjust="spacingAndGlyphs">50</text>
<text x="133.7" y="270.05" text-anchor="end" textLength="12.75" lengthAdjust="spacingAndGlyphs">100</text>
<text x="133.7" y="241.8" text-anchor="end" textLength="12.75" lengthAdjust="spacingAndGlyphs">150</text>
<text x="133.7" y="213.55" text-anchor="end" textLength="12.75" lengthAdjust="spacingAndGlyphs">200</text>
<text x="138.4" y="334.9" font-size="7.8" text-anchor="middle" textLength="6" lengthAdjust="spacingAndGlyphs">-1</text>
<text x="158.3" y="334.9" font-size="7.8" text-anchor="middle" textLength="4.2" lengthAdjust="spacingAndGlyphs">0</text>
<text x="178.5" y="334.9" font-size="7.8" text-anchor="middle" textLength="4.2" lengthAdjust="spacingAndGlyphs">1</text>
<text x="198.7" y="334.9" font-size="7.8" text-anchor="middle" textLength="4.2" lengthAdjust="spacingAndGlyphs">2</text>
<text x="218.9" y="334.9" font-size="7.8" text-anchor="middle" textLength="4.2" lengthAdjust="spacingAndGlyphs">3</text>
</g>
<polyline points="138.1,275.72 138.45,275.72 138.79,275.72 139.14,275.72 139.49,275.72 139.83,275.72 140.18,275.72 140.53,275.72 140.87,275.72 141.22,275.72 141.56,275.72 141.91,275.72 142.26,275.72 142.6,275.72 142.95,275.72 143.3,275.72 143.64,275.72 143.99,275.72 144.34,275.72 144.68,275.72 145.03,275.72 145.38,275.72 145.72,275.72 146.07,275.72 146.41,275.72 146.76,275.72 147.11,275.72 147.45,275.72 147.8,275.72 148.15,275.72 148.49,275.72 148.84,275.72 149.19,275.72 149.53,275.72 149.88,275.72 150.23,275.72 150.57,275.72 150.92,275.72 151.26,275.72 151.61,275.72 151.96,275.72 152.3,275.72 152.65,275.72 153,275.72 153.34,275.72 153.69,275.72 154.04,275.72 154.38,275.72 154.73,275.72 155.08,275.72 155.42,275.72 155.77,275.72 156.11,275.72 156.46,275.72 156.81,275.72 157.15,275.72 157.5,275.72 157.85,275.72 158.19,275.72 158.54,275.72 158.89,275.72 159.23,275.72 159.58,275.72 159.93,275.72 160.27,275.72 160.62,275.72 160.96,275.72 161.31,275.72 161.66,275.72 162,275.72 162.35,275.72 162.7,275.72 163.04,275.72 163.39,275.72 163.74,275.72 164.08,275.72 164.43,275.72 164.78,275.72 165.12,275.73 165.47,275.73 165.81,275.73 166.16,275.73 166.51,275.73 166.85,275.73 167.2,275.73 167.55,275.73 167.89,275.74 168.24,275.74 168.59,275.74 168.93,275.74 169.28,275.74 169.63,275.75 169.97,275.75 170.32,275.75 170.66,275.76 171.01,275.76 171.36,275.77 171.7,275.77 172.05,275.78 172.4,275.78 172.74,275.79 173.09,275.8 173.44,275.81 173.78,275.82 174.13,275.83 174.48,275.84 174.82,275.85 175.17,275.87 175.51,275.88 175.86,275.9 176.21,275.92 176.55,275.95 176.9,275.97 177.25,276 177.59,276.03 177.94,276.06 178.29,276.1 178.63,276.14 178.98,276.19 179.33,276.24 179.67,276.3 180.02,276.36 180.36,276.43 180.71,276.5 181.06,276.59 181.4,276.68 181.75,276.78 182.1,276.89 182.44,277.02 182.79,277.15 183.14,277.3 183.48,277.46 183.83,277.64 184.18,277.84 184.52,278.05 184.87,278.29 185.21,278.54 185.56,278.81 185.91,279.11 186.25,279.43 186.6,279.78 186.95,280.15 187.29,280.55 187.64,280.98 187.99,281.43 188.33,281.91 188.68,282.42 189.03,282.96 189.37,283.52 189.72,284.1 190.06,284.7 190.41,285.33 190.76,285.97 191.1,286.63 191.45,287.29 191.8,287.97 192.14,288.64 192.49,289.32 192.84,290 193.18,290.66 193.53,291.32 193.88,291.96 194.22,292.58 194.57,293.19 194.91,293.77 195.26,294.33 195.61,294.86 195.95,295.37 196.3,295.85 196.65,296.3 196.99,296.72 197.34,297.12 197.69,297.49 198.03,297.84 198.38,298.16 198.73,298.46 199.07,298.73 199.42,298.98 199.76,299.21 200.11,299.43 200.46,299.62 200.8,299.8 201.15,299.96 201.5,300.11 201.84,300.25 202.19,300.37 202.54,300.48 202.88,300.58 203.23,300.68 203.58,300.76 203.92,300.83 204.27,300.9 204.61,300.97 204.96,301.02 205.31,301.07 205.65,301.12 206,301.16 206.35,301.2 206.69,301.23 207.04,301.26 207.39,301.29" stroke="#d87814" stroke-width="1.3" fill="none" stroke-linejoin="round"/>
<path d="M152.14 258.83V275.21M151.24 258.83H153.04M151.24 275.21H153.04M158.3 284.81V287.64M157.4 284.81H159.2M157.4 287.64H159.2M164.46 291.88V293.57M163.56 291.88H165.36M163.56 293.57H165.36M170.62 273.68V275.94M169.72 273.68H171.52M169.72 275.94H171.52M176.78 271.59V274.98M175.88 271.59H177.68M175.88 274.98H177.68M182.94 262.78V268.43M182.04 262.78H183.84M182.04 268.43H183.84M189.1 284.81V290.47M188.2 284.81H190M188.2 290.47H190M207.59 301.43V305.16M206.69 301.43H208.49M206.69 305.16H208.49" stroke="#5a5a5a" stroke-width="1.2" fill="none"/>
<rect x="151.34" y="266.5" width="1.6" height="1.6" fill="#333"/>
<rect x="157.5" y="285.43" width="1.6" height="1.6" fill="#333"/>
<rect x="163.66" y="291.93" width="1.6" height="1.6" fill="#333"/>
<rect x="169.82" y="274.01" width="1.6" height="1.6" fill="#333"/>
<rect x="175.98" y="272.49" width="1.6" height="1.6" fill="#333"/>
<rect x="182.14" y="264.81" width="1.6" height="1.6" fill="#333"/>
<rect x="188.3" y="286.84" width="1.6" height="1.6" fill="#333"/>
<rect x="194.47" y="292.21" width="1.6" height="1.6" fill="#333"/>
<rect x="200.63" y="299.27" width="1.6" height="1.6" fill="#333"/>
<rect x="206.79" y="302.49" width="1.6" height="1.6" fill="#333"/>
<text x="276.6" y="200.8" font-family="Liberation Sans, sans-serif" font-weight="bold" font-size="8.4" fill="#111" stroke="#111" stroke-width="0.3" text-anchor="middle" textLength="24.8" lengthAdjust="spacingAndGlyphs">#0384</text>
<line x1="264.4" y1="202.5" x2="288.8" y2="202.5" stroke="#1a1a1a" stroke-width="1"/>
<path d="M242.9 210.8V326.8M240.4 323.8H323.7M240.4 323.8H242.9M240.4 295.55H242.9M240.4 267.3H242.9M240.4 239.05H242.9M240.4 210.8H242.9M242.9 323.8V326.8M263.1 323.8V326.8M283.3 323.8V326.8M303.5 323.8V326.8M323.7 323.8V326.8" stroke="#000" stroke-width="1.1" fill="none"/>
<g font-family="Liberation Sans, sans-serif" font-weight="bold" font-size="8.4" fill="#111" stroke="#111" stroke-width="0.15">
<text x="238.5" y="326.55" text-anchor="end" textLength="4.25" lengthAdjust="spacingAndGlyphs">0</text>
<text x="238.5" y="298.3" text-anchor="end" textLength="8.5" lengthAdjust="spacingAndGlyphs">50</text>
<text x="238.5" y="270.05" text-anchor="end" textLength="12.75" lengthAdjust="spacingAndGlyphs">100</text>
<text x="238.5" y="241.8" text-anchor="end" textLength="12.75" lengthAdjust="spacingAndGlyphs">150</text>
<text x="238.5" y="213.55" text-anchor="end" textLength="12.75" lengthAdjust="spacingAndGlyphs">200</text>
<text x="243.2" y="334.9" font-size="7.8" text-anchor="middle" textLength="6" lengthAdjust="spacingAndGlyphs">-1</text>
<text x="263.1" y="334.9" font-size="7.8" text-anchor="middle" textLength="4.2" lengthAdjust="spacingAndGlyphs">0</text>
<text x="283.3" y="334.9" font-size="7.8" text-anchor="middle" textLength="4.2" lengthAdjust="spacingAndGlyphs">1</text>
<text x="303.5" y="334.9" font-size="7.8" text-anchor="middle" textLength="4.2" lengthAdjust="spacingAndGlyphs">2</text>
<text x="323.7" y="334.9" font-size="7.8" text-anchor="middle" textLength="4.2" lengthAdjust="spacingAndGlyphs">3</text>
</g>
<polyline points="242.9,252.27 243.25,252.27 243.59,252.27 243.94,252.27 244.29,252.27 244.63,252.27 244.98,252.27 245.33,252.27 245.67,252.27 246.02,252.27 246.36,252.27 246.71,252.27 247.06,252.27 247.4,252.27 247.75,252.27 248.1,252.27 248.44,252.27 248.79,252.27 249.14,252.27 249.48,252.27 249.83,252.27 250.18,252.27 250.52,252.27 250.87,252.27 251.21,252.27 251.56,252.27 251.91,252.27 252.25,252.27 252.6,252.27 252.95,252.27 253.29,252.27 253.64,252.27 253.99,252.27 254.33,252.27 254.68,252.27 255.03,252.27 255.37,252.27 255.72,252.27 256.06,252.27 256.41,252.27 256.76,252.27 257.1,252.27 257.45,252.27 257.8,252.27 258.14,252.27 258.49,252.27 258.84,252.27 259.18,252.27 259.53,252.27 259.88,252.27 260.22,252.27 260.57,252.27 260.91,252.27 261.26,252.27 261.61,252.27 261.95,252.27 262.3,252.27 262.65,252.27 262.99,252.28 263.34,252.28 263.69,252.28 264.03,252.28 264.38,252.28 264.73,252.28 265.07,252.29 265.42,252.29 265.76,252.29 266.11,252.3 266.46,252.3 266.8,252.31 267.15,252.32 267.5,252.33 267.84,252.34 268.19,252.36 268.54,252.38 268.88,252.41 269.23,252.44 269.58,252.47 269.92,252.52 270.27,252.58 270.61,252.64 270.96,252.73 271.31,252.83 271.65,252.95 272,253.1 272.35,253.28 272.69,253.5 273.04,253.77 273.39,254.08 273.73,254.45 274.08,254.89 274.43,255.41 274.77,256.01 275.12,256.71 275.46,257.49 275.81,258.37 276.16,259.35 276.5,260.41 276.85,261.53 277.2,262.71 277.54,263.92 277.89,265.14 278.24,266.33 278.58,267.48 278.93,268.56 279.28,269.57 279.62,270.48 279.97,271.3 280.31,272.03 280.66,272.66 281.01,273.21 281.35,273.67 281.7,274.07 282.05,274.4 282.39,274.68 282.74,274.92 283.09,275.11 283.43,275.27 283.78,275.4 284.13,275.51 284.47,275.6 284.82,275.67 285.16,275.73 285.51,275.78 285.86,275.82 286.2,275.86 286.55,275.88 286.9,275.9 287.24,275.92 287.59,275.94 287.94,275.95 288.28,275.96 288.63,275.97 288.98,275.97 289.32,275.98 289.67,275.98 290.01,275.99 290.36,275.99 290.71,275.99 291.05,275.99 291.4,275.99 291.75,276 292.09,276 292.44,276 292.79,276 293.13,276 293.48,276 293.83,276 294.17,276 294.52,276 294.86,276 295.21,276 295.56,276 295.9,276 296.25,276 296.6,276 296.94,276 297.29,276 297.64,276 297.98,276 298.33,276 298.68,276 299.02,276 299.37,276 299.71,276 300.06,276 300.41,276 300.75,276 301.1,276 301.45,276 301.79,276 302.14,276 302.49,276 302.83,276 303.18,276 303.53,276 303.87,276 304.22,276 304.56,276 304.91,276 305.26,276 305.6,276 305.95,276 306.3,276 306.64,276 306.99,276 307.34,276 307.68,276 308.03,276 308.38,276 308.72,276 309.07,276 309.41,276 309.76,276 310.11,276 310.45,276 310.8,276 311.15,276 311.49,276 311.84,276 312.19,276" stroke="#9a9420" stroke-width="1.3" fill="none" stroke-linejoin="round"/>
<path d="M256.94 258.83V265.61M256.04 258.83H257.84M256.04 265.61H257.84M263.1 241.65V246.62M262.2 241.65H264M262.2 246.62H264M269.26 219.84V248.09M268.36 219.84H270.16M268.36 248.09H270.16M275.42 246.96V270.69M274.52 246.96H276.32M274.52 270.69H276.32M281.58 267.64V274.42M280.68 267.64H282.48M280.68 274.42H282.48M287.74 267.64V282.33M286.84 267.64H288.64M286.84 282.33H288.64M293.9 284.93V291.71M293 284.93H294.8M293 291.71H294.8M300.07 267.13V270.52M299.17 267.13H300.97M299.17 270.52H300.97M306.23 258.71V262.1M305.33 258.71H307.13M305.33 262.1H307.13M312.39 284.36V292.27M311.49 284.36H313.29M311.49 292.27H313.29" stroke="#5a5a5a" stroke-width="1.2" fill="none"/>
<rect x="256.14" y="261.42" width="1.6" height="1.6" fill="#333"/>
<rect x="262.3" y="243.33" width="1.6" height="1.6" fill="#333"/>
<rect x="268.46" y="233.17" width="1.6" height="1.6" fill="#333"/>
<rect x="274.62" y="258.03" width="1.6" height="1.6" fill="#333"/>
<rect x="280.78" y="270.23" width="1.6" height="1.6" fill="#333"/>
<rect x="286.94" y="274.18" width="1.6" height="1.6" fill="#333"/>
<rect x="293.1" y="287.52" width="1.6" height="1.6" fill="#333"/>
<rect x="299.27" y="268.03" width="1.6" height="1.6" fill="#333"/>
<rect x="305.43" y="259.61" width="1.6" height="1.6" fill="#333"/>
<rect x="311.59" y="287.52" width="1.6" height="1.6" fill="#333"/>
<text x="381.4" y="200.8" font-family="Liberation Sans, sans-serif" font-weight="bold" font-size="8.4" fill="#111" stroke="#111" stroke-width="0.3" text-anchor="middle" textLength="24.8" lengthAdjust="spacingAndGlyphs">#0385</text>
<line x1="369.2" y1="202.5" x2="393.6" y2="202.5" stroke="#1a1a1a" stroke-width="1"/>
<path d="M347.7 210.8V326.8M345.2 323.8H428.5M345.2 323.8H347.7M345.2 295.55H347.7M345.2 267.3H347.7M345.2 239.05H347.7M345.2 210.8H347.7M347.7 323.8V326.8M367.9 323.8V326.8M388.1 323.8V326.8M408.3 323.8V326.8M428.5 323.8V326.8" stroke="#000" stroke-width="1.1" fill="none"/>
<g font-family="Liberation Sans, sans-serif" font-weight="bold" font-size="8.4" fill="#111" stroke="#111" stroke-width="0.15">
<text x="343.3" y="326.55" text-anchor="end" textLength="4.25" lengthAdjust="spacingAndGlyphs">0</text>
<text x="343.3" y="298.3" text-anchor="end" textLength="8.5" lengthAdjust="spacingAndGlyphs">50</text>
<text x="343.3" y="270.05" text-anchor="end" textLength="12.75" lengthAdjust="spacingAndGlyphs">100</text>
<text x="343.3" y="241.8" text-anchor="end" textLength="12.75" lengthAdjust="spacingAndGlyphs">150</text>
<text x="343.3" y="213.55" text-anchor="end" textLength="12.75" lengthAdjust="spacingAndGlyphs">200</text>
<text x="348" y="334.9" font-size="7.8" text-anchor="middle" textLength="6" lengthAdjust="spacingAndGlyphs">-1</text>
<text x="367.9" y="334.9" font-size="7.8" text-anchor="middle" textLength="4.2" lengthAdjust="spacingAndGlyphs">0</text>
<text x="388.1" y="334.9" font-size="7.8" text-anchor="middle" textLength="4.2" lengthAdjust="spacingAndGlyphs">1</text>
<text x="408.3" y="334.9" font-size="7.8" text-anchor="middle" textLength="4.2" lengthAdjust="spacingAndGlyphs">2</text>
<text x="428.5" y="334.9" font-size="7.8" text-anchor="middle" textLength="4.2" lengthAdjust="spacingAndGlyphs">3</text>
</g>
<polyline points="347.7,242.78 348.05,242.78 348.39,242.78 348.74,242.78 349.09,242.78 349.43,242.78 349.78,242.78 350.13,242.78 350.47,242.78 350.82,242.78 351.16,242.78 351.51,242.78 351.86,242.78 352.2,242.78 352.55,242.78 352.9,242.78 353.24,242.78 353.59,242.78 353.94,242.78 354.28,242.78 354.63,242.78 354.98,242.78 355.32,242.78 355.67,242.78 356.01,242.78 356.36,242.78 356.71,242.78 357.05,242.78 357.4,242.78 357.75,242.78 358.09,242.78 358.44,242.78 358.79,242.78 359.13,242.78 359.48,242.78 359.83,242.78 360.17,242.78 360.52,242.78 360.86,242.78 361.21,242.78 361.56,242.78 361.9,242.78 362.25,242.78 362.6,242.78 362.94,242.78 363.29,242.78 363.64,242.78 363.98,242.78 364.33,242.78 364.68,242.78 365.02,242.78 365.37,242.78 365.71,242.78 366.06,242.78 366.41,242.78 366.75,242.78 367.1,242.78 367.45,242.78 367.79,242.78 368.14,242.78 368.49,242.78 368.83,242.78 369.18,242.78 369.53,242.78 369.87,242.78 370.22,242.78 370.56,242.78 370.91,242.78 371.26,242.78 371.6,242.78 371.95,242.78 372.3,242.78 372.64,242.78 372.99,242.78 373.34,242.78 373.68,242.78 374.03,242.78 374.38,242.78 374.72,242.78 375.07,242.78 375.41,242.78 375.76,242.78 376.11,242.78 376.45,242.78 376.8,242.78 377.15,242.78 377.49,242.78 377.84,242.78 378.19,242.78 378.53,242.78 378.88,242.78 379.23,242.78 379.57,242.78 379.92,242.78 380.26,242.78 380.61,242.78 380.96,242.78 381.3,242.78 381.65,242.78 382,242.78 382.34,242.78 382.69,242.78 383.04,242.78 383.38,242.78 383.73,242.78 384.08,242.78 384.42,242.78 384.77,242.78 385.11,242.78 385.46,242.78 385.81,242.78 386.15,242.78 386.5,242.78 386.85,242.78 387.19,242.78 387.54,242.78 387.89,242.78 388.23,242.78 388.58,242.78 388.93,242.78 389.27,242.78 389.62,242.78 389.96,242.78 390.31,242.78 390.66,242.78 391,242.78 391.35,242.78 391.7,242.78 392.04,242.78 392.39,242.78 392.74,242.79 393.08,242.8 393.43,242.81 393.78,242.84 394.12,242.9 394.47,243 394.81,243.2 395.16,243.57 395.51,244.25 395.85,245.5 396.2,247.72 396.55,251.51 396.89,257.54 397.24,266.07 397.59,276.4 397.93,286.78 398.28,295.42 398.63,301.56 398.97,305.44 399.32,307.72 399.66,309.01 400.01,309.71 400.36,310.09 400.7,310.29 401.05,310.4 401.4,310.46 401.74,310.49 402.09,310.5 402.44,310.51 402.78,310.52 403.13,310.52 403.48,310.52 403.82,310.52 404.17,310.52 404.51,310.52 404.86,310.52 405.21,310.52 405.55,310.52 405.9,310.52 406.25,310.52 406.59,310.52 406.94,310.52 407.29,310.52 407.63,310.52 407.98,310.52 408.33,310.52 408.67,310.52 409.02,310.52 409.36,310.52 409.71,310.52 410.06,310.52 410.4,310.52 410.75,310.52 411.1,310.52 411.44,310.52 411.79,310.52 412.14,310.52 412.48,310.52 412.83,310.52 413.18,310.52 413.52,310.52 413.87,310.52 414.21,310.52 414.56,310.52 414.91,310.52 415.25,310.52 415.6,310.52 415.95,310.52 416.29,310.52 416.64,310.52 416.99,310.52" stroke="#2a8036" stroke-width="1.3" fill="none" stroke-linejoin="round"/>
<path d="M361.74 253.18V257.69M360.84 253.18H362.64M360.84 257.69H362.64M367.9 248.94V252.89M367 248.94H368.8M367 252.89H368.8M374.06 242.1V248.43M373.16 242.1H374.96M373.16 248.43H374.96M392.54 217.02V266.74M391.64 217.02H393.44M391.64 266.74H393.44M398.7 297.41V316.62M397.81 297.41H399.6M397.81 316.62H399.6M404.87 302.89V311.94M403.97 302.89H405.77M403.97 311.94H405.77M411.03 311.94V316.68M410.13 311.94H411.93M410.13 316.68H411.93M417.19 301.09V317.7M416.29 301.09H418.09M416.29 317.7H418.09" stroke="#5a5a5a" stroke-width="1.2" fill="none"/>
<rect x="360.94" y="254.63" width="1.6" height="1.6" fill="#333"/>
<rect x="367.1" y="250.12" width="1.6" height="1.6" fill="#333"/>
<rect x="373.26" y="244.47" width="1.6" height="1.6" fill="#333"/>
<rect x="379.42" y="241.41" width="1.6" height="1.6" fill="#333"/>
<rect x="391.74" y="241.07" width="1.6" height="1.6" fill="#333"/>
<rect x="397.9" y="306.22" width="1.6" height="1.6" fill="#333"/>
<rect x="404.07" y="306.62" width="1.6" height="1.6" fill="#333"/>
<rect x="410.23" y="313.51" width="1.6" height="1.6" fill="#333"/>
<rect x="416.39" y="308.59" width="1.6" height="1.6" fill="#333"/>
<text x="486.2" y="200.8" font-family="Liberation Sans, sans-serif" font-weight="bold" font-size="8.4" fill="#111" stroke="#111" stroke-width="0.3" text-anchor="middle" textLength="24.8" lengthAdjust="spacingAndGlyphs">#0386</text>
<line x1="474" y1="202.5" x2="498.4" y2="202.5" stroke="#1a1a1a" stroke-width="1"/>
<path d="M452.5 210.8V326.8M450 323.8H533.3M450 323.8H452.5M450 295.55H452.5M450 267.3H452.5M450 239.05H452.5M450 210.8H452.5M452.5 323.8V326.8M472.7 323.8V326.8M492.9 323.8V326.8M513.1 323.8V326.8M533.3 323.8V326.8" stroke="#000" stroke-width="1.1" fill="none"/>
<g font-family="Liberation Sans, sans-serif" font-weight="bold" font-size="8.4" fill="#111" stroke="#111" stroke-width="0.15">
<text x="448.1" y="326.55" text-anchor="end" textLength="4.25" lengthAdjust="spacingAndGlyphs">0</text>
<text x="448.1" y="298.3" text-anchor="end" textLength="8.5" lengthAdjust="spacingAndGlyphs">50</text>
<text x="448.1" y="270.05" text-anchor="end" textLength="12.75" lengthAdjust="spacingAndGlyphs">100</text>
<text x="448.1" y="241.8" text-anchor="end" textLength="12.75" lengthAdjust="spacingAndGlyphs">150</text>
<text x="448.1" y="213.55" text-anchor="end" textLength="12.75" lengthAdjust="spacingAndGlyphs">200</text>
<text x="452.8" y="334.9" font-size="7.8" text-anchor="middle" textLength="6" lengthAdjust="spacingAndGlyphs">-1</text>
<text x="472.7" y="334.9" font-size="7.8" text-anchor="middle" textLength="4.2" lengthAdjust="spacingAndGlyphs">0</text>
<text x="492.9" y="334.9" font-size="7.8" text-anchor="middle" textLength="4.2" lengthAdjust="spacingAndGlyphs">1</text>
<text x="513.1" y="334.9" font-size="7.8" text-anchor="middle" textLength="4.2" lengthAdjust="spacingAndGlyphs">2</text>
<text x="533.3" y="334.9" font-size="7.8" text-anchor="middle" textLength="4.2" lengthAdjust="spacingAndGlyphs">3</text>
</g>
<polyline points="452.5,244.02 452.85,244.02 453.19,244.02 453.54,244.02 453.89,244.02 454.23,244.02 454.58,244.02 454.93,244.02 455.27,244.02 455.62,244.02 455.96,244.02 456.31,244.02 456.66,244.02 457,244.02 457.35,244.02 457.7,244.02 458.04,244.02 458.39,244.02 458.74,244.02 459.08,244.02 459.43,244.02 459.78,244.02 460.12,244.02 460.47,244.02 460.81,244.02 461.16,244.02 461.51,244.02 461.85,244.02 462.2,244.02 462.55,244.02 462.89,244.02 463.24,244.02 463.59,244.02 463.93,244.02 464.28,244.02 464.63,244.02 464.97,244.02 465.32,244.02 465.66,244.02 466.01,244.02 466.36,244.02 466.7,244.02 467.05,244.02 467.4,244.02 467.74,244.02 468.09,244.02 468.44,244.02 468.78,244.02 469.13,244.02 469.48,244.02 469.82,244.02 470.17,244.02 470.51,244.02 470.86,244.02 471.21,244.02 471.55,244.02 471.9,244.02 472.25,244.02 472.59,244.02 472.94,244.02 473.29,244.02 473.63,244.02 473.98,244.02 474.33,244.02 474.67,244.02 475.02,244.02 475.36,244.02 475.71,244.02 476.06,244.02 476.4,244.02 476.75,244.02 477.1,244.02 477.44,244.02 477.79,244.02 478.14,244.02 478.48,244.02 478.83,244.02 479.18,244.02 479.52,244.02 479.87,244.02 480.21,244.02 480.56,244.02 480.91,244.02 481.25,244.02 481.6,244.02 481.95,244.02 482.29,244.02 482.64,244.02 482.99,244.02 483.33,244.02 483.68,244.02 484.03,244.02 484.37,244.02 484.72,244.02 485.06,244.02 485.41,244.02 485.76,244.02 486.1,244.02 486.45,244.02 486.8,244.02 487.14,244.02 487.49,244.02 487.84,244.02 488.18,244.02 488.53,244.02 488.88,244.02 489.22,244.02 489.57,244.02 489.91,244.02 490.26,244.02 490.61,244.02 490.95,244.02 491.3,244.02 491.65,244.02 491.99,244.02 492.34,244.02 492.69,244.02 493.03,244.02 493.38,244.02 493.73,244.02 494.07,244.02 494.42,244.02 494.76,244.02 495.11,244.02 495.46,244.02 495.8,244.02 496.15,244.02 496.5,244.02 496.84,244.02 497.19,244.02 497.54,244.02 497.88,244.02 498.23,244.02 498.58,244.02 498.92,244.03 499.27,244.03 499.61,244.05 499.96,244.08 500.31,244.16 500.65,244.34 501,244.77 501.35,245.78 501.69,248.07 502.04,252.95 502.39,262.07 502.73,275.58 503.08,290.03 503.43,300.97 503.77,307.28 504.12,310.36 504.46,311.75 504.81,312.34 505.16,312.6 505.5,312.7 505.85,312.75 506.2,312.77 506.54,312.78 506.89,312.78 507.24,312.78 507.58,312.78 507.93,312.78 508.28,312.78 508.62,312.78 508.97,312.78 509.31,312.78 509.66,312.78 510.01,312.78 510.35,312.78 510.7,312.78 511.05,312.78 511.39,312.78 511.74,312.78 512.09,312.78 512.43,312.78 512.78,312.78 513.13,312.78 513.47,312.78 513.82,312.78 514.16,312.78 514.51,312.78 514.86,312.78 515.2,312.78 515.55,312.78 515.9,312.78 516.24,312.78 516.59,312.78 516.94,312.78 517.28,312.78 517.63,312.78 517.98,312.78 518.32,312.78 518.67,312.78 519.01,312.78 519.36,312.78 519.71,312.78 520.05,312.78 520.4,312.78 520.75,312.78 521.09,312.78 521.44,312.78 521.79,312.78" stroke="#2096b8" stroke-width="1.3" fill="none" stroke-linejoin="round"/>
<path d="M466.54 259.39V266.17M465.64 259.39H467.44M465.64 266.17H467.44M472.7 249.9V255.32M471.8 249.9H473.6M471.8 255.32H473.6M478.86 254.53V262.44M477.96 254.53H479.76M477.96 262.44H479.76M485.02 228.71V237.3M484.12 228.71H485.92M484.12 237.3H485.92M497.34 236.51V244.08M496.44 236.51H498.24M496.44 244.08H498.24M503.5 302.89V311.94M502.61 302.89H504.4M502.61 311.94H504.4M515.83 312.95V316.91M514.93 312.95H516.73M514.93 316.91H516.73M521.99 313.46V315.72M521.09 313.46H522.89M521.09 315.72H522.89" stroke="#5a5a5a" stroke-width="1.2" fill="none"/>
<rect x="465.74" y="261.98" width="1.6" height="1.6" fill="#333"/>
<rect x="471.9" y="251.81" width="1.6" height="1.6" fill="#333"/>
<rect x="478.06" y="257.69" width="1.6" height="1.6" fill="#333"/>
<rect x="484.22" y="232.2" width="1.6" height="1.6" fill="#333"/>
<rect x="496.54" y="239.49" width="1.6" height="1.6" fill="#333"/>
<rect x="502.7" y="306.62" width="1.6" height="1.6" fill="#333"/>
<rect x="508.87" y="308.71" width="1.6" height="1.6" fill="#333"/>
<rect x="515.03" y="314.13" width="1.6" height="1.6" fill="#333"/>
<rect x="521.19" y="313.79" width="1.6" height="1.6" fill="#333"/>
<text transform="translate(14.3 92.1) rotate(-90)" font-family="Liberation Sans, sans-serif" font-size="8.95" fill="#111" stroke="#111" stroke-width="0.1" text-anchor="middle">XTT activity (%)</text>
<text transform="translate(13.2 254.95) rotate(-90)" font-family="Liberation Sans, sans-serif" font-size="8.95" fill="#111" stroke="#111" stroke-width="0.1" text-anchor="middle">XTT activity (%)</text>
<text x="203.2" y="346.8" font-family="Liberation Sans, sans-serif" font-size="9.9" fill="#2a2a2a" stroke="#2a2a2a" stroke-width="0.2" lengthAdjust="spacingAndGlyphs" textLength="25.4">BiNPs</text>
<text x="231.6" y="346.8" font-family="Liberation Sans, sans-serif" font-size="9.9" fill="#2a2a2a" stroke="#2a2a2a" stroke-width="0.2" lengthAdjust="spacingAndGlyphs" textLength="84">(log concentration,</text>
<text x="319.4" y="346.8" font-family="Liberation Sans, sans-serif" font-size="9.9" fill="#2a2a2a" stroke="#2a2a2a" stroke-width="0.2" lengthAdjust="spacingAndGlyphs" textLength="10.6">µg</text>
<text x="333.4" y="346.8" font-family="Liberation Sans, sans-serif" font-size="9.9" fill="#2a2a2a" stroke="#2a2a2a" stroke-width="0.2" lengthAdjust="spacingAndGlyphs" textLength="13.2">mL</text>
<text x="353" y="346.8" font-family="Liberation Sans, sans-serif" font-size="9.9" fill="#2a2a2a" stroke="#2a2a2a" stroke-width="0.2" lengthAdjust="spacingAndGlyphs" textLength="3">)</text>
<text x="347.2" y="343.6" font-family="Liberation Sans, sans-serif" font-size="6" fill="#2a2a2a" stroke="#2a2a2a" stroke-width="0.1" textLength="5.2" lengthAdjust="spacingAndGlyphs">-1</text>
</svg>
</body></html>
